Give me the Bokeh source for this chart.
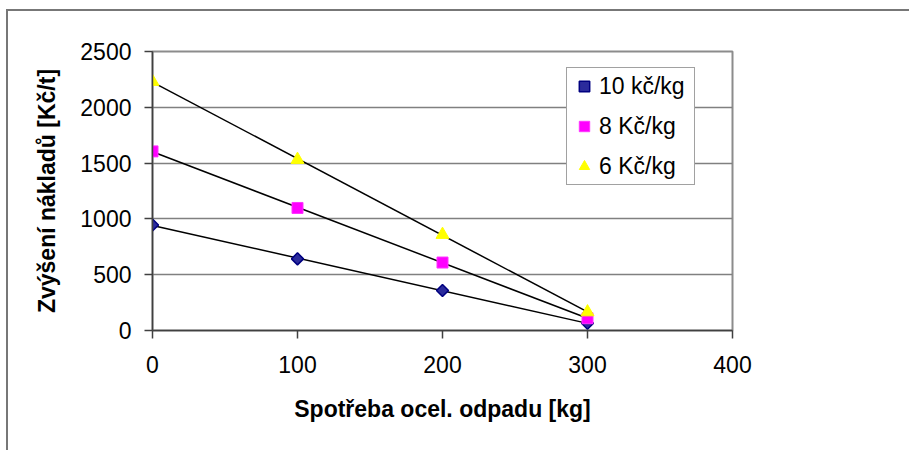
import numpy as np
from bokeh.plotting import figure
from bokeh.models import Range1d, FixedTicker, Legend, LegendItem
from bokeh.embed import file_html
from bokeh.resources import INLINE

# data
x_vals = [0, 100, 200, 300]
s10 = [946, 642, 358, 65]
s8 = [1605, 1098, 609, 110]
s6 = [2230, 1531, 859, 165]
names = ["10 kč/kg", "8 Kč/kg", "6 Kč/kg"]
x_ticks = [0, 100, 200, 300, 400]
y_ticks = [0, 500, 1000, 1500, 2000, 2500]

FONT = "Liberation Sans"

p = figure(width=909, height=450, output_backend="svg", toolbar_location=None,
           x_range=Range1d(0, 400), y_range=Range1d(0, 2500),
           min_border_left=152, min_border_right=177, min_border_top=51, min_border_bottom=120)
p.background_fill_color = "white"
p.border_fill_color = "white"
p.border_fill_alpha = 0
p.styles = {
    "background": "linear-gradient(#777777, #777777) 6px 9px / 2px 2000px no-repeat, "
                  "linear-gradient(#777777, #777777) 6px 9px / 2000px 2px no-repeat, white"
}
p.outline_line_color = "#8c8c8c"
p.outline_line_width = 2

p.xgrid.grid_line_color = None
p.ygrid.grid_line_color = "#808080"
p.ygrid.grid_line_width = 1.3

for ax in (p.xaxis[0], p.yaxis[0]):
    ax.axis_line_color = "#404040"
    ax.axis_line_width = 1.5
    ax.major_tick_line_color = "#404040"
    ax.major_tick_line_width = 1.5
    ax.major_tick_in = 0
    ax.major_tick_out = 8
    ax.minor_tick_line_color = None
    ax.major_label_text_font = FONT
    ax.major_label_text_font_size = "23px"
    ax.major_label_text_color = "black"
    ax.axis_label_text_font = FONT
    ax.axis_label_text_font_size = "23px"
    ax.axis_label_text_font_style = "bold"
    ax.axis_label_text_color = "black"

p.xaxis.ticker = FixedTicker(ticks=x_ticks)
p.yaxis.ticker = FixedTicker(ticks=y_ticks)
p.xaxis.major_label_standoff = 17
p.yaxis.major_label_standoff = 13
p.xaxis.axis_label = "Spotřeba ocel. odpadu [kg]"
p.yaxis.axis_label = "Zvýšení nákladů [Kč/t]"
p.xaxis.axis_label_standoff = 20
p.yaxis.axis_label_standoff = 17

# trend lines (linear fits of each series)
xs = np.array(x_vals, dtype=float)
line_x = [xs.min(), xs.max()]
for series in (s10, s8, s6):
    k, q = np.polyfit(xs, np.array(series, dtype=float), 1)
    p.line(line_x, [k * line_x[0] + q, k * line_x[1] + q], line_color="black", line_width=1.5)

r10 = p.scatter(x_vals, s10, marker="square", size=8.5, angle=np.pi / 4,
                fill_color="#2b2b9c", line_color="#000080", line_width=1.5)
r8 = p.scatter(x_vals, s8, marker="square", size=11,
               fill_color="#ff00ff", line_color="#ff33ff", line_width=1)
r6 = p.scatter(x_vals, s6, marker="triangle", size=13,
               fill_color="#ffff00", line_color="#ffff00", line_width=1)

legend = Legend(items=[LegendItem(label=names[0], renderers=[r10]),
                       LegendItem(label=names[1], renderers=[r8]),
                       LegendItem(label=names[2], renderers=[r6])],
                location=(414, 145))
legend.label_text_font = FONT
legend.label_text_font_size = "23px"
legend.label_text_color = "black"
legend.border_line_color = "#444444"
legend.border_line_width = 1
legend.background_fill_color = "white"
legend.background_fill_alpha = 1
legend.padding = 4
legend.spacing = 12
legend.glyph_width = 26
legend.glyph_height = 28
legend.label_height = 28
legend.label_width = 91
legend.label_standoff = 2
legend.margin = 0
p.add_layout(legend)

open("out.html", "w").write(file_html(p, INLINE))
